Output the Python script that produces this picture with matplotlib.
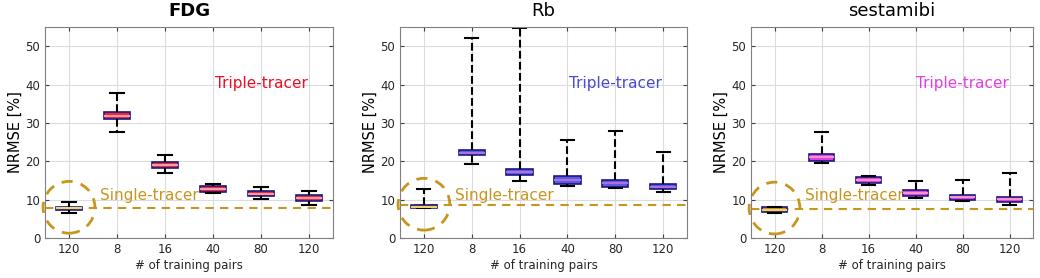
import matplotlib
matplotlib.use('Agg')
import matplotlib.pyplot as plt
from matplotlib.patches import Ellipse

tick_labels = ['120', '8', '16', '40', '80', '120']
titles = ['FDG', 'Rb', 'sestamibi']

# per box: whisker low, q1, median, q3, whisker high
fdg_stats = [
    [6.6, 7.2, 7.7, 8.2, 9.3],
    [27.6, 31.0, 31.8, 32.8, 37.7],
    [16.9, 18.2, 18.9, 19.8, 21.6],
    [11.8, 12.0, 12.7, 13.6, 14.0],
    [10.1, 10.9, 11.5, 12.2, 13.4],
    [8.6, 9.6, 10.4, 11.3, 12.3],
]
rb_stats = [
    [7.7, 7.8, 8.2, 8.7, 12.9],
    [19.2, 21.6, 22.2, 22.9, 52.2],
    [14.9, 16.3, 17.1, 17.9, 54.8],
    [13.6, 14.2, 15.2, 16.1, 25.5],
    [13.0, 13.3, 14.3, 15.2, 27.8],
    [12.0, 12.8, 13.4, 14.1, 22.4],
]
sesta_stats = [
    [6.6, 6.9, 7.4, 8.0, 8.1],
    [19.5, 20.1, 21.0, 21.9, 27.6],
    [13.8, 14.3, 15.1, 16.0, 16.2],
    [10.4, 11.0, 11.8, 12.5, 14.8],
    [9.6, 9.9, 10.6, 11.2, 15.2],
    [8.6, 9.4, 10.1, 10.8, 16.9],
]
single_lines = [7.7, 8.5, 7.5]

all_stats = [fdg_stats, rb_stats, sesta_stats]
fills = ['#e8283c', '#5a5ae6', '#e040e0']
medcols = ['#ff9aa0', '#b070e0', '#ff90d0']
txtcols = ['#e8102a', '#4a4ad0', '#e040e0']
gold = '#c8961e'
navy = '#1a1a80'

plt.rcParams['font.family'] = 'DejaVu Sans'
fig = plt.figure(figsize=(10.4, 2.78), dpi=100)
lefts = [45, 400, 751]
rights = [333, 687, 1033]

for k in range(3):
    l = lefts[k] / 1040
    w = (rights[k] - lefts[k]) / 1040
    ax = fig.add_axes([l, (278 - 238) / 278, w, (238 - 27) / 278])
    st = all_stats[k]
    bxp = []
    for s in st:
        bxp.append({'whislo': s[0], 'q1': s[1], 'med': s[2], 'q3': s[3],
                    'whishi': s[4], 'fliers': []})
    res = ax.bxp(bxp, positions=range(1, 7), widths=0.55, patch_artist=True,
                 showfliers=False,
                 boxprops=dict(edgecolor=navy, linewidth=1.2),
                 whiskerprops=dict(color='black', linestyle='--', linewidth=1.5),
                 capprops=dict(color='black', linewidth=1.5),
                 medianprops=dict(linewidth=1.5))
    for i, b in enumerate(res['boxes']):
        b.set_facecolor(gold if i == 0 else fills[k])
    for i, m in enumerate(res['medians']):
        m.set_color('#f0d070' if i == 0 else medcols[k])

    ax.axhline(single_lines[k], color=gold, linestyle=(0, (4, 3)), linewidth=1.5, zorder=1)
    ax.add_patch(Ellipse((1, single_lines[k] + 0.3), 1.08, 13.5, fill=False,
                         edgecolor=gold, linestyle=(0, (4, 3)), linewidth=2, clip_on=False))
    ax.text(1.65, 11.0, 'Single-tracer', color=gold, fontsize=11, va='center')
    ax.text(5.0, 40.3, 'Triple-tracer', color=txtcols[k], fontsize=11,
            ha='center', va='center')

    ax.set_xlim(0.5, 6.5)
    ax.set_ylim(0, 55)
    ax.set_yticks([0, 10, 20, 30, 40, 50])
    ax.set_xticks(range(1, 7))
    ax.set_xticklabels(tick_labels)
    ax.tick_params(direction='in', top=True, right=True, labelsize=8.5,
                   length=3, color='#404040', labelcolor='#262626')
    ax.grid(True, color='#dcdcdc', linewidth=0.8)
    ax.set_axisbelow(True)
    for sp in ax.spines.values():
        sp.set_color('#808080')
    ax.set_xlabel('# of training pairs', fontsize=8.5, color='#262626', labelpad=2)
    ax.set_ylabel('NRMSE [%]', fontsize=10.5, labelpad=2)
    ax.set_title(titles[k], fontsize=13, fontweight='bold' if k == 0 else 'normal',
                 pad=8)

fig.savefig('out.png', dpi=100)
